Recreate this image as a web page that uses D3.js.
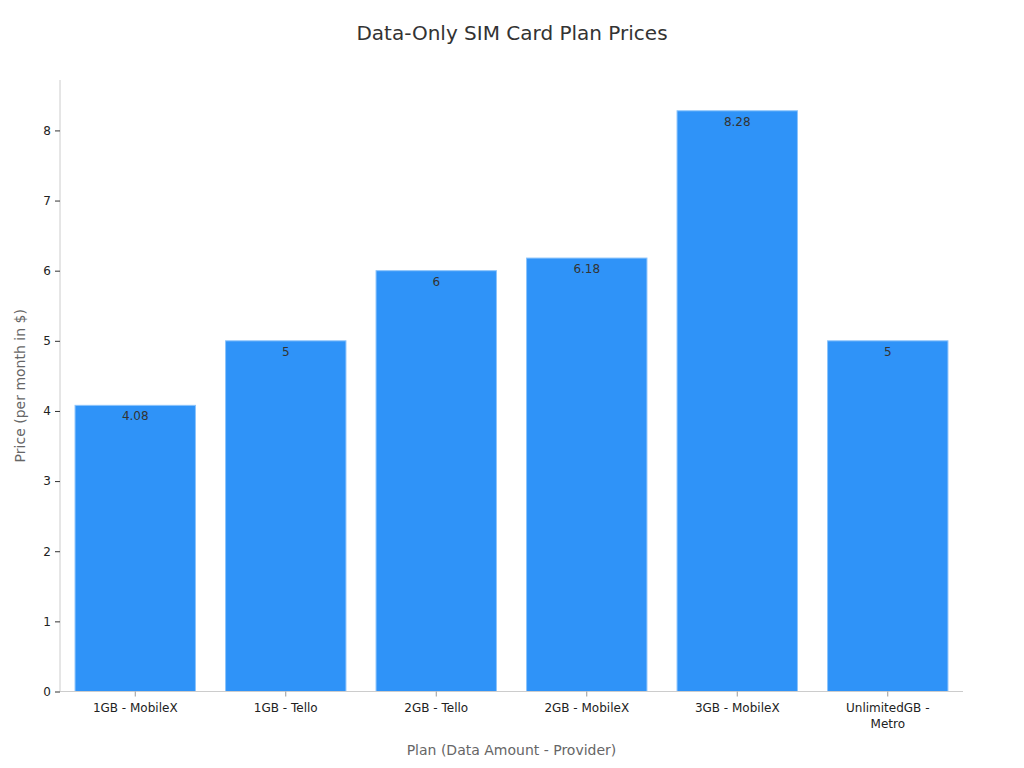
<!DOCTYPE html>
<html><head><meta charset="utf-8">
<script src="https://cdn.jsdelivr.net/npm/d3@7"></script>
<style>body{margin:0;background:#fff;font-family:"DejaVu Sans",sans-serif;}</style>
</head><body><svg id="c" width="1024" height="768"></svg>
<script>
const categories = ["1GB - MobileX","1GB - Tello","2GB - Tello","2GB - MobileX","3GB - MobileX","UnlimitedGB - Metro"];
const prices = [4.08, 5, 6, 6.18, 8.28, 5];
const yTicks = [0,1,2,3,4,5,6,7,8];

const svg = d3.select("#c");
const m = {l:60, r:61, t:80, b:76.5};
const W = 1024, H = 768;
const x = d3.scaleBand().domain(categories).range([m.l, W-m.r]).paddingInner(0.2).paddingOuter(0.1);
const y = d3.scaleLinear().domain([0, d3.max(prices)*1.053]).range([H-m.b, m.t]);

svg.append("text").attr("x",512).attr("y",40).attr("text-anchor","middle")
  .attr("font-size",20).attr("fill","#333").text("Data-Only SIM Card Plan Prices");

svg.selectAll("rect.bar").data(prices).join("rect").attr("class","bar")
  .attr("x",(d,i)=>x(categories[i])).attr("width",x.bandwidth())
  .attr("y",d=>y(d)).attr("height",d=>y(0)-y(d))
  .attr("fill","#2f93f8").attr("stroke","#8cc4fb").attr("stroke-width",1);

svg.selectAll("text.val").data(prices).join("text").attr("class","val")
  .attr("x",(d,i)=>x(categories[i])+x.bandwidth()/2).attr("y",d=>y(d)+15)
  .attr("text-anchor","middle").attr("font-size",12).attr("fill","#333").text(d=>d);

const ya = svg.append("g").attr("transform",`translate(${m.l},0)`)
  .call(d3.axisLeft(y).tickValues(yTicks).tickSize(5).tickPadding(4));
ya.select(".domain").attr("stroke","#ccc").attr("d",`M0,${y.range()[1]}V${y(0)}`);
ya.selectAll(".tick line").attr("stroke","#333");
ya.selectAll(".tick text").attr("font-size",12).attr("fill","#222").attr("font-family","DejaVu Sans");

const xa = svg.append("g").attr("transform",`translate(0,${y(0)})`)
  .call(d3.axisBottom(x).tickSize(5).tickPadding(7));
xa.select(".domain").attr("stroke","#ccc").attr("d",`M${m.l},0H${W-m.r}`);
xa.selectAll(".tick line").attr("stroke","#999");
xa.selectAll(".tick text").attr("font-size",12).attr("fill","#222").attr("font-family","DejaVu Sans")
  .each(function(d){
    const t = d3.select(this);
    const maxW = x.bandwidth();
    const words = d.split(" ");
    t.text(null);
    let line = [];
    let ts = t.append("tspan").attr("x",0).attr("dy","0.71em");
    for (const w of words) {
      line.push(w);
      ts.text(line.join(" "));
      if (ts.node().getComputedTextLength() > maxW*0.75 && line.length>1) {
        line.pop(); ts.text(line.join(" "));
        line = [w];
        ts = t.append("tspan").attr("x",0).attr("dy","1.3em").text(w);
      }
    }
  });

svg.append("text").attr("x",(m.l+W-m.r)/2).attr("y",755).attr("text-anchor","middle")
  .attr("font-size",14).attr("fill","#666").text("Plan (Data Amount - Provider)");
svg.append("text").attr("transform",`translate(25,${(y(0)+m.t)/2}) rotate(-90)`).attr("text-anchor","middle")
  .attr("font-size",14).attr("fill","#666").text("Price (per month in $)");
</script></body></html>
